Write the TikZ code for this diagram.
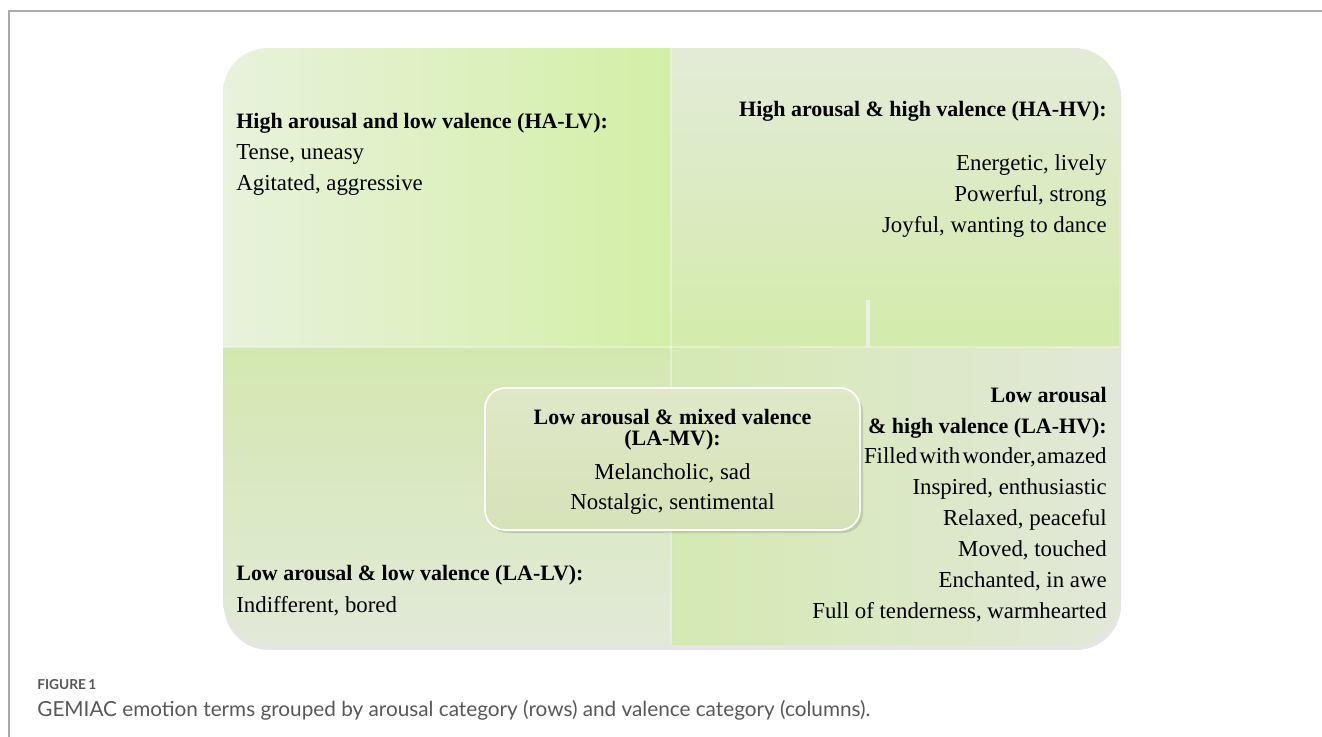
\documentclass[tikz,border=0pt]{standalone}
\usepackage{fontspec}
\setmainfont{Liberation Serif}
\newfontfamily\capfont{Lato}
\usetikzlibrary{calc}

\definecolor{framegray}{HTML}{ABABAB}
\definecolor{capgray}{HTML}{585858}
\definecolor{halvleft}{HTML}{E8F2DC}
\definecolor{halvright}{HTML}{D3EFA6}
\definecolor{hahvtop}{HTML}{E3EBD8}
\definecolor{hahvbot}{HTML}{D3EBAB}
\definecolor{lalvtop}{HTML}{D3E8B0}
\definecolor{lalvbot}{HTML}{E2E9D8}
\definecolor{lahvleft}{HTML}{D4E9B2}
\definecolor{lahvright}{HTML}{E2E8D8}
\definecolor{lamvtop}{HTML}{DFE8C8}
\definecolor{lamvbot}{HTML}{D6E2B8}

\tikzset{
  headtxt/.style={font=\fontsize{12.5}{15}\selectfont\bfseries, inner sep=0pt},
  itemtxt/.style={font=\fontsize{13}{15}\selectfont, inner sep=0pt},
  midbox/.style={draw=white, line width=1pt, rounded corners=0.4cm,
    top color=lamvtop, bottom color=lamvbot,
    minimum width=7.5cm, minimum height=2.84cm, inner sep=0pt},
}

\begin{document}
\begin{tikzpicture}[x=0.02cm,y=-0.02cm]
    \useasboundingbox (0,0) rectangle (1322,737);
    \draw[framegray, line width=0.8pt] (9,737) -- (9,11) -- (1322,11);
    % shadow and quadrants
    \fill[black, opacity=0.10, rounded corners=0.9cm] (224,51) rectangle (1121,650);
    \begin{scope}
      \clip[rounded corners=0.9cm] (223,48) rectangle (1119,645);
      \shade[left color=halvleft, right color=halvright] (223,48) rectangle (671,347);
      \shade[top color=hahvtop, bottom color=hahvbot] (671,48) rectangle (1119,347);
      \shade[top color=lalvtop, bottom color=lalvbot] (223,347) rectangle (671,645);
      \shade[left color=lahvleft, right color=lahvright] (671,347) rectangle (1119,645);
      \draw[white, opacity=0.35, line width=0.6pt] (671,48) -- (671,645);
      \draw[white, opacity=0.35, line width=0.6pt] (223,347) -- (1119,347);
    \end{scope}
    \draw[lahvright!70!white, line width=2pt] (868,300) -- (868,347);
    % LA-MV box
    \fill[black, opacity=0.12, rounded corners=0.4cm] (488,392) rectangle (863,533);
    \node[midbox] (lamv) at (672.5,459) {};
    \node[headtxt, anchor=base] (lamv-a) at (672.5,424) {Low arousal \& mixed valence};
    \node[headtxt, anchor=base] (lamv-b) at (672.5,445) {(LA-MV):};
    \node[itemtxt, anchor=base] (lamv-1) at (672.5,479) {Melancholic, sad};
    \node[itemtxt, anchor=base] (lamv-2) at (672.5,509) {Nostalgic, sentimental};
    % HA-LV
    \node[headtxt, anchor=base west] (halv) at (236,128) {High arousal and low valence (HA-LV):};
    \node[itemtxt, anchor=base west] (halv-1) at (236,159) {Tense, uneasy};
    \node[itemtxt, anchor=base west] (halv-2) at (236,190) {Agitated, aggressive};
    % HA-HV
    \node[headtxt, anchor=base east] (hahv) at (1107,116) {High arousal \& high valence (HA-HV):};
    \foreach \t [count=\i] in {{Energetic, lively},{Powerful, strong},{Joyful, wanting to dance}}
      \node[itemtxt, anchor=base east] (hahv-\i) at (1107,{170+31*(\i-1)}) {\t};
    % LA-LV
    \node[headtxt, anchor=base west] (lalv) at (236,580) {Low arousal \& low valence (LA-LV):};
    \node[itemtxt, anchor=base west] (lalv-1) at (236,612) {Indifferent, bored};
    % LA-HV
    \node[headtxt, anchor=base east] (lahv) at (1107,402) {Low arousal};
    \node[headtxt, anchor=base east] (lahv-b) at (1107,433) {\& high valence (LA-HV):};
    \foreach \t [count=\i] in {{Filled\hspace{0.1em}with\hspace{0.1em}wonder,\hspace{0.05em}amazed},
        {Inspired, enthusiastic},{Relaxed, peaceful},
        {Moved, touched},{Enchanted, in awe},{Full of tenderness, warmhearted}}
      \node[itemtxt, anchor=base east] (lahv-\i) at (1107,{463+31*(\i-1)}) {\t};
    % caption
    \node[anchor=base west, inner sep=0pt, text=capgray, font=\capfont\bfseries\fontsize{7.8}{9}\selectfont] (fig) at (37,689) {FIGURE\,1};
    \node[anchor=base west, inner sep=0pt, text=capgray, font=\capfont\fontsize{11.8}{14}\selectfont] (cap) at (37,716)
      {GEMIAC emotion terms grouped by arousal category (rows) and valence category (columns).};
\end{tikzpicture}
\end{document}
